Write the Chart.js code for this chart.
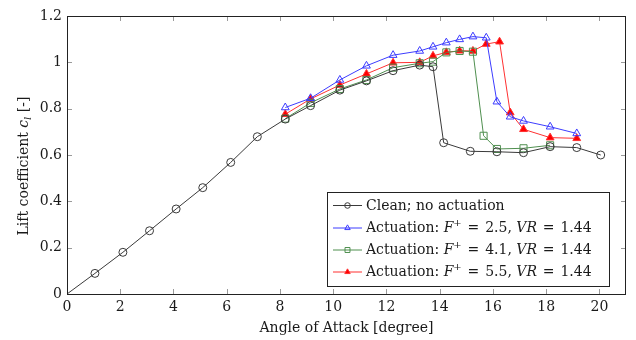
<!DOCTYPE html>
<html>
<head>
<meta charset="utf-8">
<script src="https://cdn.jsdelivr.net/npm/chart.js@4.4.0/dist/chart.umd.min.js"></script>
<style>
  html, body { margin: 0; padding: 0; background: #fff; }
</style>
</head>
<body>
<canvas id="chartCanvas" width="636" height="340"></canvas>
<script>
// angle of attack [deg] and lift coefficient per run
const cleanAoa = [0, 1.05, 2.1, 3.1, 4.1, 5.1, 6.15, 7.15, 8.2, 9.15, 10.25, 11.25, 12.25, 13.25, 13.75, 14.15, 15.15, 16.15, 17.15, 18.15, 19.15, 20.05];
const cleanCl  = [0, 0.089, 0.18, 0.273, 0.367, 0.459, 0.568, 0.679, 0.755, 0.813, 0.88, 0.92, 0.964, 0.988, 0.981, 0.653, 0.616, 0.614, 0.61, 0.636, 0.632, 0.6];

const f25Aoa = [8.2, 9.15, 10.25, 11.25, 12.25, 13.25, 13.75, 14.25, 14.75, 15.25, 15.75, 16.15, 16.65, 17.15, 18.15, 19.15];
const f25Cl  = [0.805, 0.845, 0.924, 0.985, 1.031, 1.049, 1.067, 1.085, 1.099, 1.111, 1.106, 0.83, 0.765, 0.747, 0.722, 0.693];

const f41Aoa = [8.2, 9.15, 10.25, 11.25, 12.25, 13.25, 13.75, 14.25, 14.75, 15.25, 15.65, 16.15, 17.15, 18.15];
const f41Cl  = [0.757, 0.825, 0.885, 0.924, 0.977, 0.996, 1.003, 1.043, 1.049, 1.046, 0.683, 0.626, 0.629, 0.642];

const f55Aoa = [8.2, 9.15, 10.25, 11.25, 12.25, 13.25, 13.75, 14.25, 14.75, 15.25, 15.75, 16.25, 16.65, 17.15, 18.15, 19.15];
const f55Cl  = [0.776, 0.842, 0.902, 0.95, 0.998, 1.0, 1.028, 1.043, 1.05, 1.049, 1.079, 1.089, 0.783, 0.711, 0.675, 0.672];

const fPlus = [null, 2.5, 4.1, 5.5];
const velocityRatio = 1.44;
const xTicks = [0, 2, 4, 6, 8, 10, 12, 14, 16, 18, 20];
const yTicks = [0, 0.2, 0.4, 0.6, 0.8, 1, 1.2];

const SERIF = '"DejaVu Serif", "Liberation Serif", serif';
const FS = 14;
const TEXT = '#1a1a1a';

function toPoints(xs, ys) {
    return xs.map((x, i) => ({ x: x, y: ys[i] }));
}

function series(label, xs, ys, color, style, fill, radius) {
    return {
        label: label,
        data: toPoints(xs, ys),
        showLine: true,
        borderColor: color,
        borderWidth: 1,
        pointStyle: style,
        pointRadius: radius,
        legendRadius: radius * 0.7,
        pointBorderColor: color,
        pointBackgroundColor: fill,
        pointBorderWidth: 1,
        tension: 0
    };
}

// frame, inward ticks, y title and the legend (pgfplots look)
const decorations = {
    id: 'decorations',
    afterDraw(chart) {
        const ctx = chart.ctx;
        const a = chart.chartArea;
        const xs = chart.scales.x, ys = chart.scales.y;
        ctx.save();
        ctx.strokeStyle = '#9a9a9a';
        ctx.lineWidth = 1;
        ctx.beginPath();
        xTicks.forEach(v => {
            const px = Math.round(xs.getPixelForValue(v)) + 0.5;
            ctx.moveTo(px, a.bottom); ctx.lineTo(px, a.bottom - 5);
            ctx.moveTo(px, a.top); ctx.lineTo(px, a.top + 5);
        });
        yTicks.forEach(v => {
            const py = Math.round(ys.getPixelForValue(v)) + 0.5;
            ctx.moveTo(a.left, py); ctx.lineTo(a.left + 5, py);
            ctx.moveTo(a.right, py); ctx.lineTo(a.right - 5, py);
        });
        ctx.stroke();
        ctx.strokeStyle = '#222';
        ctx.strokeRect(Math.round(a.left) + 0.5, Math.round(a.top) + 0.5,
                       Math.round(a.right - a.left) - 1, Math.round(a.bottom - a.top));

        // y axis title with italic c and subscript l
        ctx.fillStyle = TEXT;
        ctx.textBaseline = 'alphabetic';
        ctx.translate(28, 166);
        ctx.rotate(-Math.PI / 2);
        const parts = [
            { t: 'Lift coefficient ', f: FS + 'px ' + SERIF, dy: 0 },
            { t: 'c', f: 'italic ' + FS + 'px ' + SERIF, dy: 0 },
            { t: 'l', f: 'italic 10px ' + SERIF, dy: 3 },
            { t: ' [-]', f: FS + 'px ' + SERIF, dy: 0 }
        ];
        let w = 0;
        parts.forEach(p => { ctx.font = p.f; w += ctx.measureText(p.t).width; });
        let x = -w / 2;
        parts.forEach(p => {
            ctx.font = p.f;
            ctx.fillText(p.t, x, p.dy);
            x += ctx.measureText(p.t).width;
        });
        ctx.setTransform(1, 0, 0, 1, 0, 0);

        // legend
        const box = { l: 327, t: 192, r: 609, b: 286 };
        ctx.fillStyle = '#fff';
        ctx.fillRect(box.l, box.t, box.r - box.l, box.b - box.t);
        ctx.strokeStyle = '#222';
        ctx.strokeRect(box.l + 0.5, box.t + 0.5, box.r - box.l, box.b - box.t);
        const rowY = [205, 227.5, 249.5, 271.5];
        const sp = '\u200A';
        chart.data.datasets.forEach((ds, i) => {
            const y = rowY[i];
            ctx.strokeStyle = ds.borderColor;
            ctx.lineWidth = 1;
            ctx.beginPath();
            ctx.moveTo(333, y + 0.5); ctx.lineTo(362, y + 0.5);
            ctx.stroke();
            ctx.fillStyle = ds.pointBackgroundColor;
            ctx.strokeStyle = ds.pointBorderColor;
            Chart.helpers.drawPoint(ctx, { pointStyle: ds.pointStyle, radius: ds.legendRadius, borderWidth: 1, rotation: 0 }, 347.5, y + 0.5);
            ctx.fillStyle = TEXT;
            ctx.textBaseline = 'middle';
            let tx = 366;
            const segs = i === 0
                ? [{ t: ds.label, f: FS + 'px ' + SERIF, dy: 0 }]
                : [
                    { t: 'Actuation: ', f: FS + 'px ' + SERIF, dy: 0 },
                    { t: 'F', f: 'italic ' + FS + 'px ' + SERIF, dy: 0 },
                    { t: '+', f: '10px ' + SERIF, dy: -5 },
                    { t: ' ' + sp + '=' + sp + ' ' + fPlus[i] + ', ', f: FS + 'px ' + SERIF, dy: 0 },
                    { t: 'VR', f: 'italic ' + FS + 'px ' + SERIF, dy: 0 },
                    { t: ' ' + sp + '=' + sp + ' ' + velocityRatio, f: FS + 'px ' + SERIF, dy: 0 }
                ];
            segs.forEach(s => {
                ctx.font = s.f;
                ctx.fillText(s.t, tx, y + 1 + s.dy);
                tx += ctx.measureText(s.t).width;
            });
        });
        ctx.restore();
    }
};

const ctx = document.getElementById('chartCanvas').getContext('2d');
const clean = series('Clean; no actuation', cleanAoa, cleanCl, '#3a3a3a', 'circle', 'rgba(0,0,0,0)', 4);
// the origin point is hidden by the axis clip in the original
clean.pointRadius = cleanAoa.map(v => (v === 0 ? 0 : 4));
const myChart = new Chart(ctx, {
    type: 'scatter',
    data: {
        datasets: [
            clean,
            series('Actuation F+ = 2.5', f25Aoa, f25Cl, '#3c3cff', 'triangle', 'rgba(0,0,0,0)', 4.5),
            series('Actuation F+ = 4.1', f41Aoa, f41Cl, '#4f8f4f', 'rect', 'rgba(0,0,0,0)', 5),
            series('Actuation F+ = 5.5', f55Aoa, f55Cl, '#ff3030', 'triangle', '#ff0000', 4.5)
        ]
    },
    options: {
        responsive: false,
        animation: false,
        layout: { padding: { top: 16, right: 10, left: 0, bottom: 0 } },
        plugins: { legend: { display: false }, tooltip: { enabled: false } },
        scales: {
            x: {
                type: 'linear',
                min: 0,
                max: 21,
                afterFit: s => { s.height = 46; },
                afterBuildTicks: s => { s.ticks = xTicks.map(v => ({ value: v })); },
                grid: { display: false, drawTicks: false },
                border: { display: false },
                ticks: { color: TEXT, padding: 5, font: { family: SERIF, size: FS }, maxRotation: 0 },
                title: { display: true, text: 'Angle of Attack [degree]', color: TEXT, font: { family: SERIF, size: FS }, padding: { top: 0, bottom: 3 } }
            },
            y: {
                min: 0,
                max: 1.2,
                afterFit: s => { s.width = 67; },
                afterBuildTicks: s => { s.ticks = yTicks.map(v => ({ value: v })); },
                grid: { display: false, drawTicks: false },
                border: { display: false },
                ticks: { color: TEXT, padding: 5, font: { family: SERIF, size: FS }, callback: v => String(Math.round(v * 10) / 10) }
            }
        }
    },
    plugins: [decorations]
});
</script>
</body>
</html>
